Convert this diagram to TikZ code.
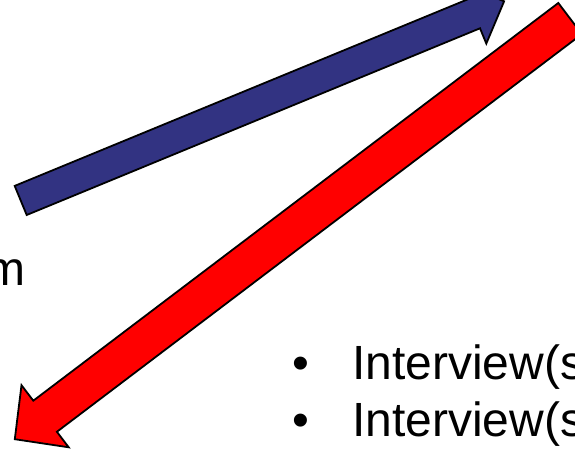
\documentclass[tikz,border=0pt]{standalone}
\usepackage{fontspec}
\setmainfont{Liberation Sans}
\definecolor{navyarrow}{RGB}{50,51,130}
\definecolor{redarrow}{RGB}{255,0,0}
\begin{document}
\begin{tikzpicture}[x=1pt,y=-1pt,
	blockarrow/.style={draw=black,line width=1.8pt,line join=miter},
	txt/.style={inner sep=0pt,anchor=base west,font=\fontsize{48}{57.5}\selectfont}]
			\useasboundingbox (0,0) rectangle (575,449);
			\clip (0,0) rectangle (575,449);
			\draw[blockarrow,fill=navyarrow] (26.7,215)--(480,28.3)--(486.3,43.6)--(504.1,1.3)--(461.7,-16.1)--(468,-0.8)--(14.7,185.9)--cycle;
			\draw[blockarrow,fill=redarrow] (558.3,3)--(33.3,400.7)--(21.5,385.2)--(14.8,439.2)--(68.7,447.3)--(56.9,431.8)--(581.9,34.1)--cycle;
			\node[txt,anchor=base east] (word) at (26,285) {m};
			\node[txt] (dot1) at (292.6,379) {•};
			\node[txt] (item1) at (352,379) {Interview(s};
			\node[txt] (dot2) at (292.6,436.7) {•};
			\node[txt] (item2) at (352,436.7) {Interview(s};
		\end{tikzpicture}
\end{document}
